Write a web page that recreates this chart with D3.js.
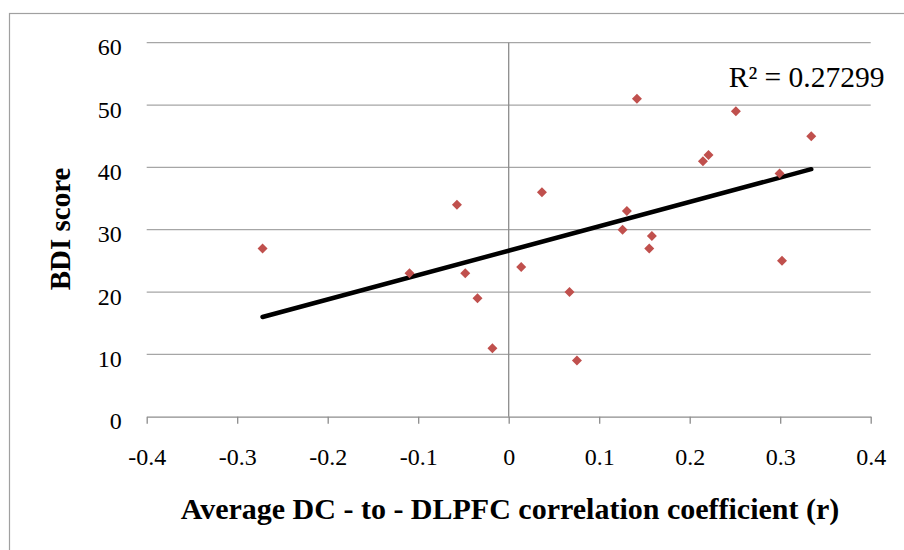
<!DOCTYPE html>
<html>
<head>
<meta charset="utf-8">
<script src="https://cdn.jsdelivr.net/npm/d3@7"></script>
<style>
  body { margin: 0; background: #fff; }
  text { font-family: "Liberation Serif", "Times New Roman", serif; fill: #000; }
</style>
</head>
<body>
<svg id="chart" width="904" height="550"></svg>
<script>
// correlation coefficient (r) vs BDI score
var corr = [-0.272, -0.1096, -0.0572, -0.048, -0.0345, -0.018, 0.0138, 0.0367,
  0.0672, 0.0754, 0.1258, 0.1306, 0.1417, 0.1582, 0.1553, 0.2146, 0.2208,
  0.251, 0.2993, 0.302, 0.3343];
var bdi = [27, 23, 34, 23, 19, 11, 24, 36, 20, 9, 30, 33, 51, 29, 27, 41, 42,
  49, 39, 25, 45];
var xTicks = [-0.4, -0.3, -0.2, -0.1, 0, 0.1, 0.2, 0.3, 0.4];
var yTicks = [0, 10, 20, 30, 40, 50, 60];
var r2Label = "R² = 0.27299";

var margin = { top: 42.7, right: 33.3, bottom: 133.3, left: 146.7 },
  width = 904 - margin.left - margin.right,
  height = 550 - margin.top - margin.bottom;

var svg = d3.select("#chart");

// outer chart border
svg
  .append("rect")
  .attr("x", 9.5)
  .attr("y", 13.5)
  .attr("width", 904)
  .attr("height", 560)
  .attr("fill", "none")
  .attr("stroke", "#a0a0a0")
  .attr("stroke-width", 1.2);

var x = d3.scaleLinear().domain([-0.4, 0.4]).range([0, width]);
var y = d3.scaleLinear().domain([0, 60]).range([height, 0]);

var g = svg
  .append("g")
  .attr("transform", "translate(" + margin.left + "," + margin.top + ")");

// horizontal gridlines
g.selectAll(".grid")
  .data(yTicks.filter(function (d) { return d > 0; }))
  .enter()
  .append("line")
  .attr("x1", 0)
  .attr("x2", width)
  .attr("y1", function (d) { return y(d); })
  .attr("y2", function (d) { return y(d); })
  .attr("stroke", "#a6a6a6")
  .attr("stroke-width", 1.3);

// y tick labels (no axis line on the left)
g.selectAll(".ylab")
  .data(yTicks)
  .enter()
  .append("text")
  .attr("x", -25)
  .attr("y", function (d) { return y(d) + 12.5; })
  .attr("text-anchor", "end")
  .style("font-size", "24px")
  .text(function (d) { return d; });

// vertical axis through x = 0
g.append("line")
  .attr("x1", x(0))
  .attr("x2", x(0))
  .attr("y1", 0)
  .attr("y2", height)
  .attr("stroke", "#8c8c8c")
  .attr("stroke-width", 1.3);

// x axis, plain hyphen for negatives like the original
var xAxis = d3
  .axisBottom(x)
  .tickValues(xTicks)
  .tickSize(7)
  .tickSizeOuter(0)
  .tickFormat(function (d) {
    return d === 0 ? "0" : (d < 0 ? "-" : "") + Math.abs(d).toFixed(1);
  });

var xg = g
  .append("g")
  .attr("transform", "translate(0," + height + ")")
  .call(xAxis);

xg.select(".domain").attr("stroke", "#8c8c8c").attr("stroke-width", 1.3);
xg.selectAll(".tick line").attr("stroke", "#8c8c8c").attr("stroke-width", 1.3);
xg.selectAll(".tick text")
  .attr("y", 48.3)
  .attr("dy", 0)
  .style("font-family", "Liberation Serif, serif")
  .style("font-size", "24px")
  .attr("fill", "#000");

// linear trend line from least squares
var mx = d3.mean(corr),
  my = d3.mean(bdi);
var sxy = d3.sum(corr, function (d, i) { return (d - mx) * (bdi[i] - my); });
var sxx = d3.sum(corr, function (d) { return (d - mx) * (d - mx); });
var slope = sxy / sxx,
  intercept = my - slope * mx;
var ends = d3.extent(corr);

g.append("line")
  .attr("x1", x(ends[0]))
  .attr("x2", x(ends[1]))
  .attr("y1", y(intercept + slope * ends[0]))
  .attr("y2", y(intercept + slope * ends[1]))
  .attr("stroke", "#000")
  .attr("stroke-width", 4.5)
  .attr("stroke-linecap", "round");

// points as diamonds
var diamond = d3.symbol().type(d3.symbolSquare).size(50);

g.selectAll(".pt")
  .data(corr)
  .enter()
  .append("path")
  .attr("d", diamond)
  .attr("transform", function (d, i) {
    return "translate(" + x(d) + "," + y(bdi[i]) + ") rotate(45)";
  })
  .attr("fill", "#c0504d");

// R squared label
g.append("text")
  .attr("x", 582)
  .attr("y", 44)
  .style("font-size", "29.5px")
  .text(r2Label);

// axis titles
svg
  .append("text")
  .attr("x", 510)
  .attr("y", 519)
  .attr("text-anchor", "middle")
  .style("font-size", "30px")
  .style("font-weight", "bold")
  .text("Average DC - to - DLPFC correlation coefficient (r)");

svg
  .append("text")
  .attr("transform", "translate(70,229) rotate(-90)")
  .attr("text-anchor", "middle")
  .style("font-size", "29px")
  .style("font-weight", "bold")
  .text("BDI score");
</script>
</body>
</html>
